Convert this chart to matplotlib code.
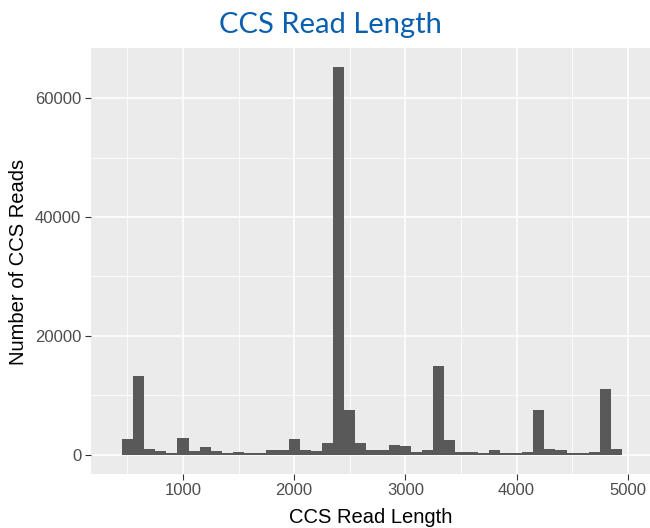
import matplotlib
matplotlib.use("Agg")
import matplotlib.pyplot as plt
from matplotlib.ticker import MultipleLocator

# Histogram bins (centres, width 100) and counts
bin_centers = [500, 600, 700, 800, 900, 1000, 1100, 1200, 1300, 1400,
               1500, 1600, 1700, 1800, 1900, 2000, 2100, 2200, 2300, 2400,
               2500, 2600, 2700, 2800, 2900, 3000, 3100, 3200, 3300, 3400,
               3500, 3600, 3700, 3800, 3900, 4000, 4100, 4200, 4300, 4400,
               4500, 4600, 4700, 4800, 4900]
counts = [2600, 13300, 950, 560, 280, 2860, 560, 1230, 560, 280,
          500, 280, 280, 780, 780, 2600, 780, 560, 1900, 65200,
          7500, 1900, 800, 800, 1700, 1450, 500, 800, 15000, 2400,
          500, 500, 250, 800, 250, 250, 500, 7500, 1000, 700,
          250, 250, 500, 11000, 1000]
bin_width = 100

x_ticks = [1000, 2000, 3000, 4000, 5000]
y_ticks = [0, 20000, 40000, 60000]

title = "CCS Read Length"
x_label = "CCS Read Length"
y_label = "Number of CCS Reads"

W, H = 650, 528
fig = plt.figure(figsize=(W / 100, H / 100), dpi=100)
fig.patch.set_facecolor("white")

left, right, top, bottom = 90.7, 650, 48, 474
ax = fig.add_axes([left / W, 1 - bottom / H, (right - left) / W, (bottom - top) / H])
ax.set_facecolor("#EBEBEB")
for s in ax.spines.values():
    s.set_visible(False)

ax.bar(bin_centers, counts, width=bin_width, color="#595959", linewidth=0, zorder=3)

ax.set_xlim(170, 5200)
ax.set_ylim(-3260, 68460)
ax.set_xticks(x_ticks)
ax.set_yticks(y_ticks)
ax.xaxis.set_minor_locator(MultipleLocator(1000, offset=500))
ax.yaxis.set_minor_locator(MultipleLocator(20000, offset=10000))
ax.grid(which="major", color="white", linewidth=1.1, zorder=1)
ax.grid(which="minor", color="white", linewidth=0.55, zorder=1)
ax.set_axisbelow(True)

ax.tick_params(which="major", length=4, width=0.8, color="#333333",
               labelcolor="#4D4D4D", labelsize=12)
ax.tick_params(axis="x", pad=2.5)
ax.tick_params(axis="y", pad=2.8)
ax.tick_params(which="minor", length=0)
for lab in ax.get_xticklabels() + ax.get_yticklabels():
    lab.set_family(["Liberation Sans", "DejaVu Sans"])

fig.text(330 / W, 1 - 33 / H, title, ha="center", va="baseline",
         fontsize=21, color="#0B5FAF", family=["Lato", "DejaVu Sans"])
fig.text(371 / W, 1 - 523 / H, x_label, ha="center", va="baseline",
         fontsize=14.5, color="black", family=["Liberation Sans", "DejaVu Sans"])
fig.text(19 / W, 1 - 262 / H, y_label, ha="center", va="center", rotation=90,
         fontsize=14.5, color="black", family=["Liberation Sans", "DejaVu Sans"])

fig.savefig("out.png", dpi=100)
